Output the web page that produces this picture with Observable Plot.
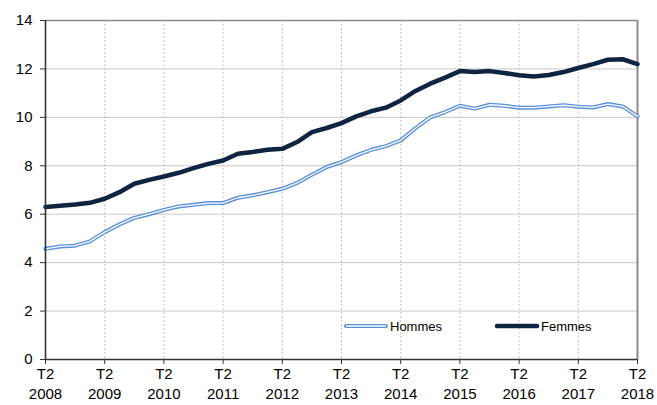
<!DOCTYPE html>
<html><head><meta charset="utf-8">
<script src="https://cdn.jsdelivr.net/npm/d3@7"></script>
<script src="https://cdn.jsdelivr.net/npm/@observablehq/plot@0.6"></script>
<style>
body{margin:0;background:#fff;}
#wrap{position:relative;width:657px;height:405px;font-family:"Liberation Sans",Arial,sans-serif;}
#legend{position:absolute;left:0;top:0;width:657px;height:405px;pointer-events:none;}
</style>
</head><body><div id="wrap"></div>
<script>
const years = [2008,2009,2010,2011,2012,2013,2014,2015,2016,2017,2018];
const quarterLabel = "T2";
const yTicks = [0,2,4,6,8,10,12,14];
const hommes = [4.57,4.67,4.70,4.88,5.26,5.58,5.85,6.00,6.18,6.32,6.39,6.46,6.46,6.68,6.78,6.91,7.05,7.29,7.63,7.95,8.15,8.43,8.66,8.81,9.05,9.55,10.00,10.22,10.48,10.36,10.52,10.48,10.40,10.40,10.45,10.50,10.44,10.41,10.55,10.45,10.04];
const femmes = [6.30,6.35,6.40,6.47,6.64,6.91,7.26,7.42,7.56,7.71,7.90,8.08,8.22,8.50,8.57,8.66,8.70,8.98,9.39,9.56,9.76,10.04,10.25,10.40,10.70,11.09,11.39,11.64,11.91,11.87,11.91,11.83,11.74,11.69,11.75,11.87,12.04,12.20,12.38,12.40,12.20];
const seriesNames = ["Hommes","Femmes"];

const data = hommes.map((v,i)=>({i, hommes:v, femmes:femmes[i]}));
const xTicks = years.map((y,k)=>k*4);
const last = hommes.length-1;

const plot = Plot.plot({
  width:657, height:405,
  marginLeft:45, marginRight:20, marginTop:20, marginBottom:46,
  style:{fontFamily:"Liberation Sans, Arial, sans-serif", fontSize:"15px", color:"#000", background:"#fff", overflow:"visible"},
  x:{domain:[0,last]},
  y:{domain:[0,14]},
  marks:[
    Plot.ruleY(yTicks.filter(v=>v>0&&v<14), {stroke:"#c8c8c8", strokeWidth:1}),
    Plot.ruleX(xTicks.filter(v=>v>0&&v<last), {stroke:"#c4c4c4", strokeWidth:1, strokeDasharray:"2,2"}),
    Plot.ruleY([14], {stroke:"#8a8a8a", strokeWidth:1.6}),
    Plot.ruleX([last], {stroke:"#8a8a8a", strokeWidth:2}),
    Plot.line(data, {x:"i", y:"femmes", stroke:"#0f2441", strokeWidth:4.5, strokeLinejoin:"round"}),
    Plot.line(data, {x:"i", y:"hommes", stroke:"#5a8fdc", strokeWidth:4, strokeLinejoin:"round"}),
    Plot.line(data, {x:"i", y:"hommes", stroke:"#ffffff", strokeWidth:1.3, strokeLinejoin:"round"}),
    Plot.ruleX([0], {stroke:"#333", strokeWidth:1.6}),
    Plot.ruleY([0], {stroke:"#333", strokeWidth:1.6}),
    Plot.axisY({ticks:yTicks, tickSize:5, tickPadding:8, stroke:"#333", label:null, fill:"#000"}),
    Plot.axisX({ticks:xTicks, tickSize:5, stroke:"#333", tickFormat:()=>"", label:null}),
    Plot.text(xTicks, {x:d=>d, text:()=>quarterLabel, frameAnchor:"bottom", dy:19, fill:"#000"}),
    Plot.text(xTicks, {x:d=>d, text:(d,k)=>String(years[k]), frameAnchor:"bottom", dy:39, fill:"#000"})
  ]
});
const wrap = document.getElementById("wrap");
wrap.appendChild(plot);

// legend overlay
const ns = "http://www.w3.org/2000/svg";
const lg = document.createElementNS(ns,"svg");
lg.setAttribute("id","legend");
lg.setAttribute("width",657); lg.setAttribute("height",405);
function add(tag, attrs, txt){const e=document.createElementNS(ns,tag);for(const k in attrs)e.setAttribute(k,attrs[k]);if(txt)e.textContent=txt;lg.appendChild(e);return e;}
add("line",{x1:346,x2:386,y1:326,y2:326,stroke:"#5a8fdc","stroke-width":4,"stroke-linecap":"round"});
add("line",{x1:346,x2:386,y1:326,y2:326,stroke:"#fff","stroke-width":1.3});
add("text",{x:390,y:326,"dominant-baseline":"central","font-size":13,"font-family":"Liberation Sans, Arial, sans-serif",fill:"#000"},seriesNames[0]);
add("line",{x1:497,x2:537,y1:326,y2:326,stroke:"#0f2441","stroke-width":4.5,"stroke-linecap":"round"});
add("text",{x:541,y:326,"dominant-baseline":"central","font-size":13,"font-family":"Liberation Sans, Arial, sans-serif",fill:"#000"},seriesNames[1]);
wrap.appendChild(lg);
</script>
</body></html>
